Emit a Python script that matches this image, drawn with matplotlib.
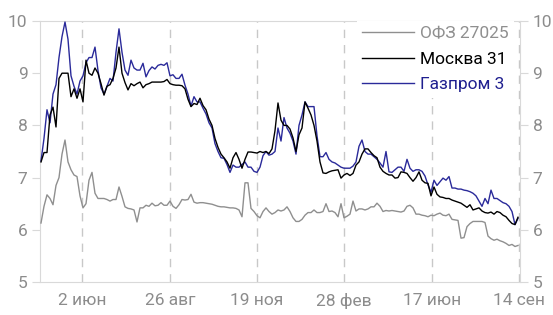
import matplotlib
matplotlib.use("Agg")
import matplotlib.pyplot as plt
import numpy as np

plt.rcParams['font.family'] = ['Roboto', 'DejaVu Sans']

# Series (sampled trading-day index)
gazprom3 = [7.32, 7.75, 8.3, 8.05, 8.6, 8.78, 9.3, 9.7, 9.98, 9.65,
            8.95, 8.75, 8.6, 8.85, 8.95, 9.2, 9.3, 9.3, 9.5, 9.05,
            8.72, 8.6, 8.75, 8.9, 8.85, 9.4, 9.85, 9.4, 9.06, 8.96,
            9.25, 9.1, 9.06, 9.06, 9.19, 8.93, 9.05, 9.12, 9.08, 9.15,
            9.17, 9.15, 9.2, 8.95, 8.97, 8.9, 8.9, 8.98, 8.77, 8.6,
            8.37, 8.55, 8.45, 8.45, 8.33, 8.22, 8.05, 7.95, 7.65, 7.5,
            7.38, 7.37, 7.25, 7.1, 7.24, 7.2, 7.2, 7.25, 7.3, 7.2,
            7.2, 7.12, 7.1, 7.2, 7.42, 7.5, 7.43, 7.45, 7.5, 7.95,
            7.7, 8.15, 7.95, 7.85, 7.7, 7.45, 8.0, 8.2, 8.45, 8.36,
            8.36, 8.36, 7.8, 7.4, 7.4, 7.48, 7.35, 7.3, 7.28, 7.24,
            7.2, 7.18, 7.18, 7.18, 7.22, 7.3, 7.6, 7.72, 7.5, 7.45,
            7.45, 7.4, 7.35, 7.28, 7.2, 7.5, 7.11, 7.1, 7.15, 7.2,
            7.2, 7.12, 7.35, 7.18, 7.12, 7.15, 7.15, 7.12, 7.03, 6.86,
            6.72, 6.95, 6.85, 6.92, 6.99, 6.95, 7.02, 6.8, 6.8, 6.78,
            6.78, 6.76, 6.75, 6.73, 6.7, 6.65, 6.55, 6.45, 6.6, 6.5,
            6.76, 6.6, 6.6, 6.56, 6.52, 6.5, 6.45, 6.35, 6.1, 6.22]

moscow31 = [7.3, 7.48, 7.48, 8.2, 8.35, 7.97, 8.9, 9.0, 9.0, 9.0,
            8.55, 8.7, 8.52, 8.7, 8.45, 9.25, 9.0, 8.96, 9.1, 9.0,
            8.8, 8.58, 8.75, 8.78, 8.9, 9.1, 9.5, 9.0, 8.82, 8.68,
            8.8, 8.76, 8.8, 8.83, 8.72, 8.78, 8.8, 8.83, 8.83, 8.83,
            8.83, 8.84, 8.88, 8.8, 8.78, 8.77, 8.77, 8.76, 8.7, 8.5,
            8.36, 8.42, 8.4, 8.52, 8.38, 8.3, 8.12, 8.0, 7.75, 7.58,
            7.45, 7.38, 7.3, 7.18, 7.38, 7.48, 7.35, 7.18, 7.35, 7.49,
            7.49, 7.48, 7.47, 7.5, 7.48, 7.5, 7.46, 7.55, 7.9, 8.43,
            8.1, 8.0, 8.0, 7.93, 7.76, 7.5, 7.82, 7.95, 8.45, 8.33,
            8.2, 8.0, 7.7, 7.3, 7.09, 7.08, 7.11, 7.13, 7.14, 7.15,
            6.99, 7.05, 7.08, 7.04, 7.08, 7.24, 7.3, 7.45, 7.55, 7.55,
            7.48, 7.42, 7.38, 7.2, 7.12, 7.08, 7.05, 7.05, 6.99, 7.0,
            7.11, 7.1, 7.08, 7.0, 6.93, 7.0, 7.11, 6.95, 6.9, 6.89,
            6.65, 6.82, 6.68, 6.63, 6.62, 6.6, 6.6, 6.57, 6.55, 6.53,
            6.51, 6.47, 6.43, 6.48, 6.38, 6.4, 6.42, 6.36, 6.33, 6.32,
            6.34, 6.3, 6.35, 6.33, 6.28, 6.25, 6.18, 6.12, 6.1, 6.24]

ofz27025 = [6.13, 6.45, 6.67, 6.6, 6.48, 6.85, 7.0, 7.45, 7.72, 7.3,
            7.15, 7.05, 7.02, 6.65, 6.42, 6.5, 6.95, 7.1, 6.7, 6.6,
            6.6, 6.6, 6.58, 6.55, 6.58, 6.58, 6.82, 6.64, 6.44, 6.41,
            6.4, 6.38, 6.15, 6.42, 6.42, 6.47, 6.45, 6.51, 6.46, 6.47,
            6.52, 6.47, 6.47, 6.55, 6.45, 6.41, 6.48, 6.58, 6.57, 6.58,
            6.68, 6.53, 6.51, 6.52, 6.52, 6.51, 6.5, 6.49, 6.47, 6.45,
            6.44, 6.44, 6.43, 6.42, 6.42, 6.41, 6.38, 6.25, 6.9, 6.9,
            6.41, 6.35, 6.27, 6.23, 6.35, 6.42, 6.35, 6.3, 6.33, 6.38,
            6.36, 6.38, 6.44, 6.35, 6.23, 6.16, 6.16, 6.2, 6.28, 6.33,
            6.33, 6.38, 6.33, 6.33, 6.35, 6.5, 6.35, 6.36, 6.33, 6.25,
            6.5, 6.23, 6.26, 6.3, 6.55, 6.36, 6.4, 6.4, 6.38, 6.4,
            6.44, 6.44, 6.51, 6.45, 6.35, 6.37, 6.36, 6.37, 6.36, 6.35,
            6.34, 6.36, 6.45, 6.47, 6.42, 6.3, 6.3, 6.28, 6.27, 6.25,
            6.28, 6.27, 6.3, 6.32, 6.28, 6.27, 6.3, 6.2, 6.19, 6.18,
            5.84, 5.85, 6.06, 6.12, 6.16, 6.16, 6.16, 6.16, 6.14, 5.88,
            5.83, 5.8, 5.82, 5.79, 5.77, 5.74, 5.7, 5.72, 5.68, 5.7]

series_names = ["ОФЗ 27025", "Москва 31", "Газпром 3"]
tick_labels = ["2 июн", "26 авг", "19 ноя", "28 фев", "17 июн", "14 сен"]
tick_pos = [13.7, 43, 72, 101, 130.3, 159.3]
y_ticks = [5, 6, 7, 8, 9, 10]

gray_c = "#8f8f8f"
black_c = "#000000"
blue_c = "#2a2a9a"
label_c = "#8c8c8c"
light = "#d9d9d9"

fig = plt.figure(figsize=(5.53, 3.15), dpi=100)
ax = fig.add_axes([40/553, 1-282/315, 480/553, 261/315])

x = np.arange(len(gazprom3))
for xp in tick_pos:
    ax.axvline(xp, color="#c8c8c8", lw=1.0, ls=(0, (6, 5)), zorder=1)

ax.plot(x, ofz27025, color=gray_c, lw=1.0, label=series_names[0], zorder=3)
ax.plot(x, moscow31, color=black_c, lw=1.0, label=series_names[1], zorder=4)
ax.plot(x, gazprom3, color=blue_c, lw=1.0, label=series_names[2], zorder=3.5)

ax.set_xlim(-0.333, 159.667)
ax.set_ylim(5, 10)
ax.set_yticks(y_ticks)
ax.set_yticklabels([str(v) for v in y_ticks])
ax.set_xticks(tick_pos)
ax.set_xticklabels(tick_labels)

for s in ax.spines.values():
    s.set_color(light)
    s.set_linewidth(0.8)

ax.tick_params(axis='y', which='both', left=True, right=True, labelleft=True,
               labelright=True, direction='out', length=6, width=0.8,
               color=light, labelcolor=label_c, labelsize=12.5, pad=3)
ax.tick_params(axis='x', length=0, labelcolor=label_c, labelsize=12.5, pad=8)

leg = ax.legend(loc='upper left', bbox_to_anchor=(0.660, 1.0), borderaxespad=0,
                frameon=True, fancybox=False, borderpad=0.3, fontsize=12.5,
                handlelength=3.0, handletextpad=0.35, labelspacing=0.6)
leg.get_frame().set_facecolor('white')
leg.get_frame().set_edgecolor('none')
leg.get_frame().set_alpha(1.0)
leg.set_zorder(10)
for txt, c in zip(leg.get_texts(), [gray_c, black_c, "#1f1f8f"]):
    txt.set_color(c)

fig.savefig("out.png", dpi=100)
